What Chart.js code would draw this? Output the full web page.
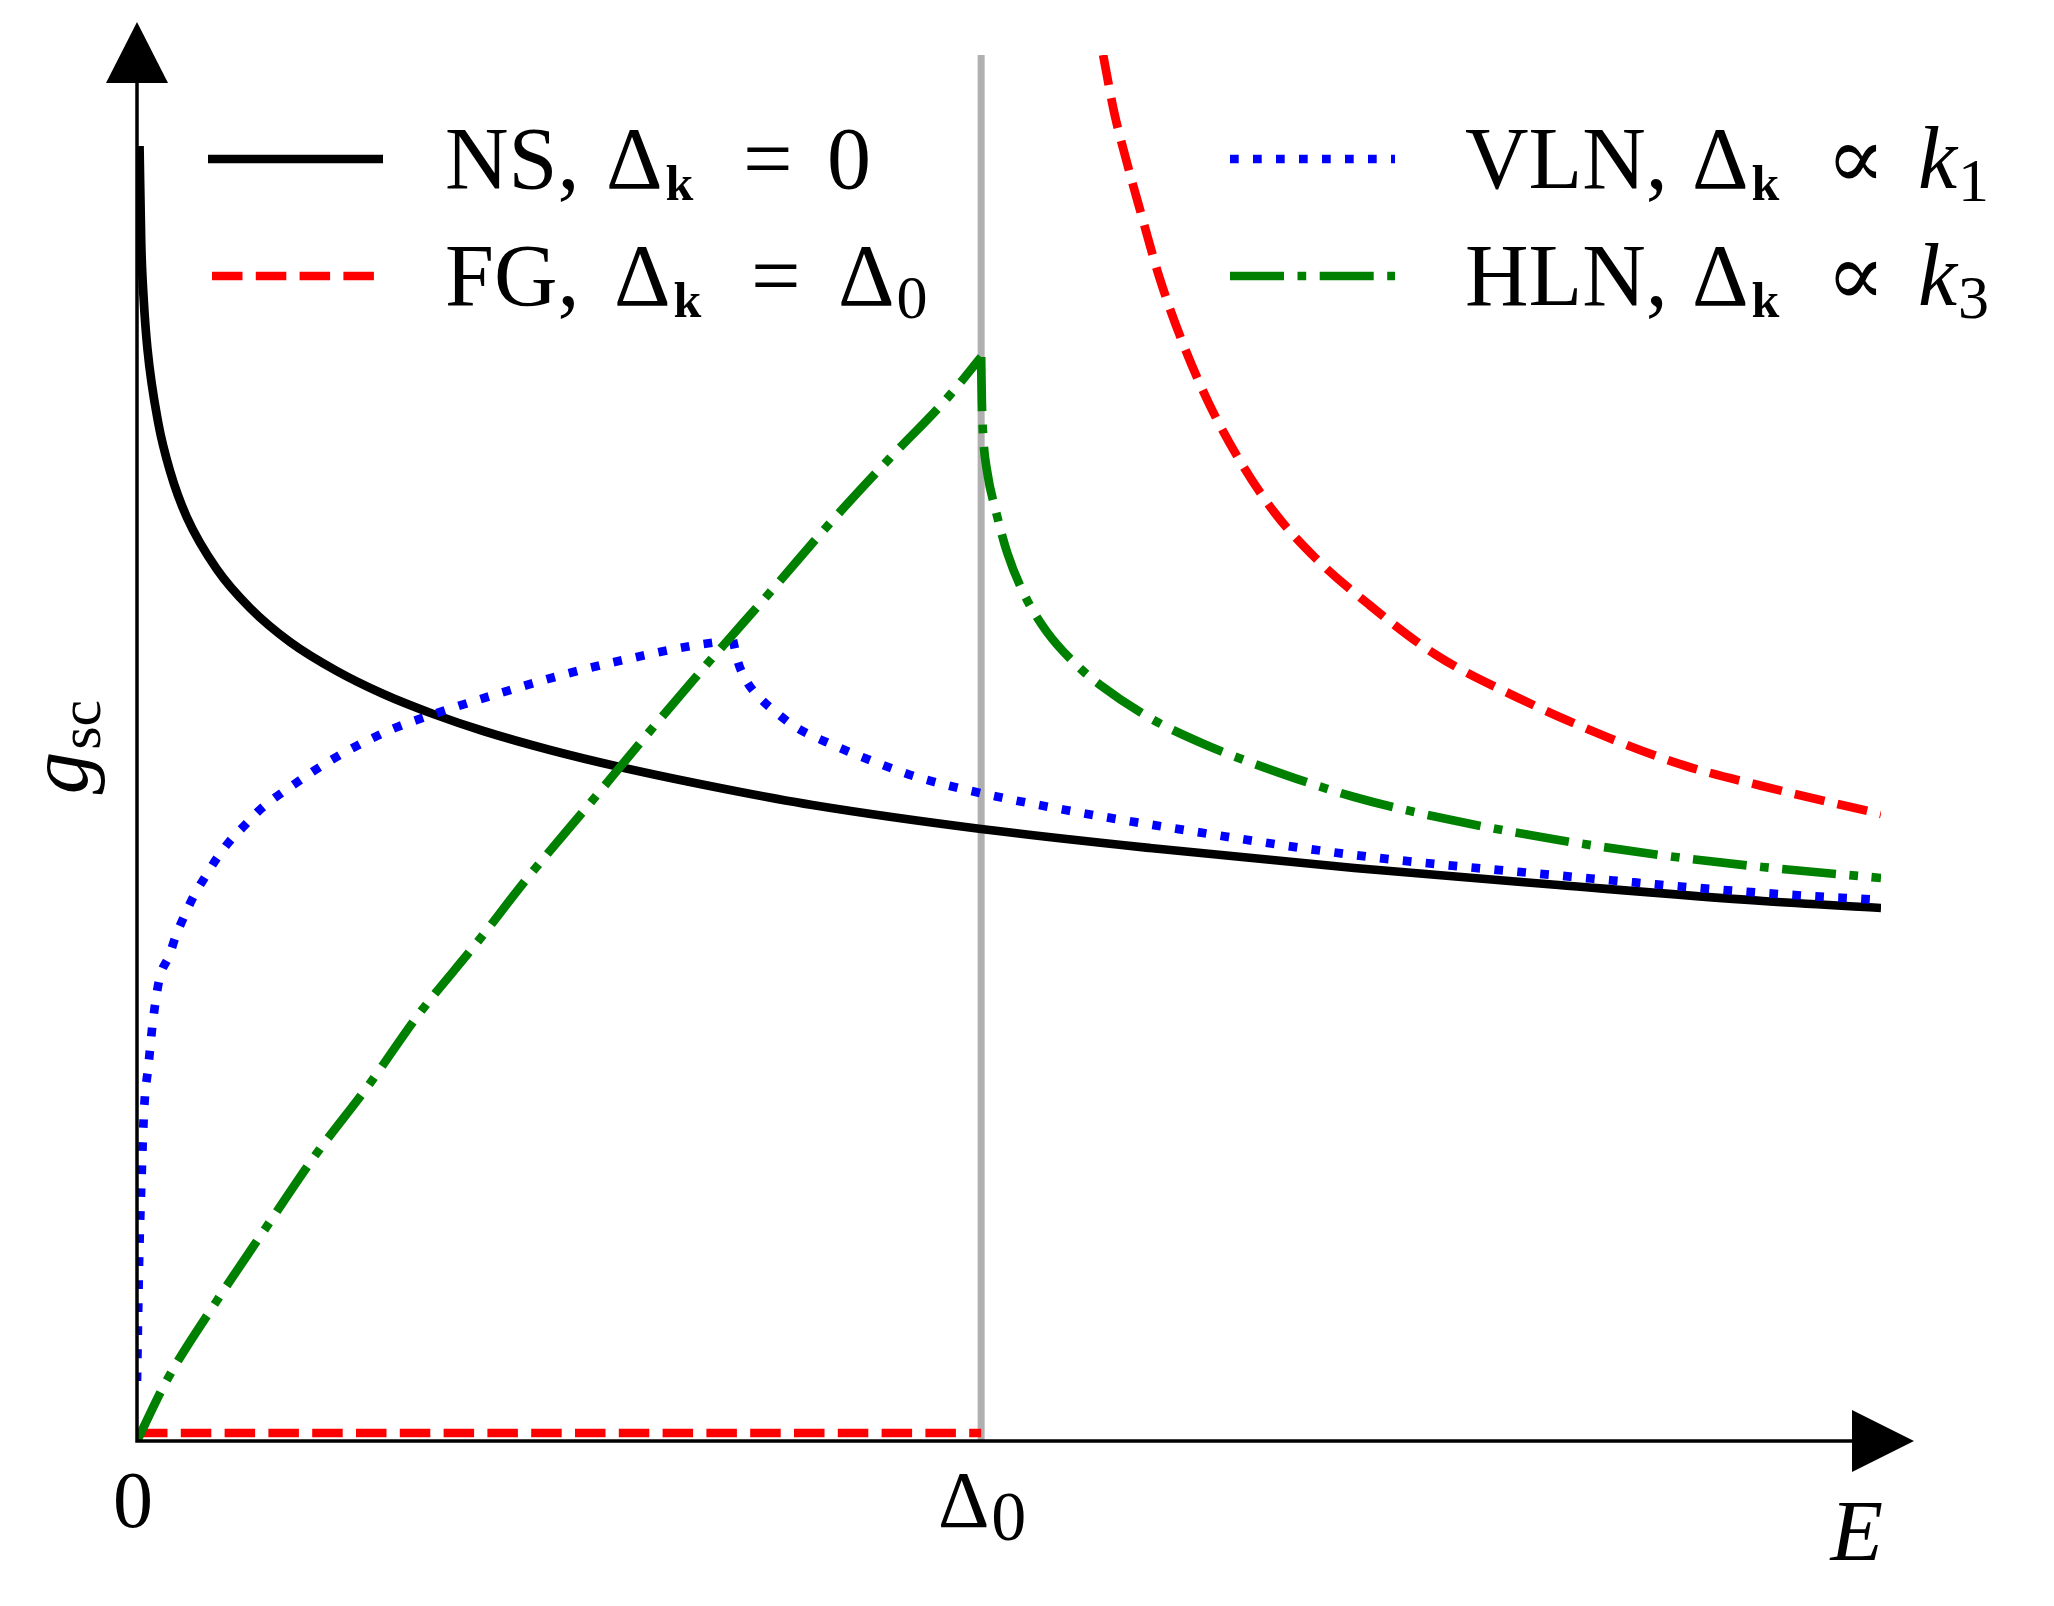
<!DOCTYPE html>
<html>
<head>
<meta charset="utf-8">
<script src="https://cdn.jsdelivr.net/npm/chart.js@4.4.1/dist/chart.umd.min.js"></script>
<style>
  html, body { margin: 0; padding: 0; background: #fff; }
  #wrap { width: 2054px; height: 1606px; }
</style>
</head>
<body>
<div id="wrap"><canvas id="myChart" width="2054" height="1606" style="width:2054px;height:1606px"></canvas></div>
<script>
// E in units of Delta_0, g_sc in arbitrary units
var nsE = [0.003, 0.005, 0.0077, 0.0124, 0.0252, 0.0391, 0.0589, 0.0944, 0.1339, 0.1813, 0.2366, 0.2918, 0.351, 0.4103, 0.4893, 0.572, 0.7026, 0.80, 1.0, 1.2, 1.442, 1.684, 1.926, 2.066];
var nsG = [12.95, 11.98, 11.45, 10.92, 10.18, 9.70, 9.24, 8.72, 8.33, 7.99, 7.70, 7.47, 7.27, 7.10, 6.91, 6.74, 6.51, 6.36, 6.12, 5.93, 5.73, 5.56, 5.40, 5.33];

var fgLowE = [0, 1.0];
var fgLowG = [0.08, 0.08];
var fgHighE = [1.1445, 1.1575, 1.1706, 1.1896, 1.211, 1.237, 1.269, 1.306, 1.348, 1.396, 1.46, 1.539, 1.634, 1.744, 1.835, 1.925, 2.066];
var fgHighG = [13.86, 13.29, 12.85, 12.27, 11.64, 11.02, 10.39, 9.81, 9.28, 8.83, 8.36, 7.86, 7.44, 7.03, 6.75, 6.55, 6.27];

var vlnRiseE = [0, 0.0024, 0.0055, 0.0085, 0.0135, 0.0186, 0.0265, 0.038, 0.046, 0.0566, 0.0672, 0.0806, 0.0948, 0.110, 0.128, 0.1466, 0.1867, 0.2322, 0.2998, 0.352, 0.4265, 0.5036, 0.5812, 0.6559, 0.706];
var vlnRiseG = [0.6, 1.77, 2.66, 3.33, 3.75, 4.18, 4.62, 4.85, 5.05, 5.26, 5.45, 5.64, 5.83, 6.0, 6.16, 6.32, 6.57, 6.82, 7.11, 7.27, 7.47, 7.66, 7.82, 7.95, 8.01];
var vlnFallE = [0.706, 0.712, 0.7227, 0.738, 0.758, 0.78, 0.8246, 0.874, 0.924, 0.999, 1.1, 1.2, 1.442, 1.684, 1.926, 2.066];
var vlnFallG = [8.01, 7.79, 7.59, 7.43, 7.28, 7.14, 6.96, 6.79, 6.64, 6.48, 6.31, 6.165, 5.86, 5.655, 5.48, 5.41];

var hlnRiseE = [0, 0.0355, 0.0936, 0.1517, 0.2097, 0.2737, 0.334, 0.4005, 0.4645, 0.533, 0.6137, 0.6825, 0.7524, 0.821, 0.892, 0.96, 1.0];
var hlnRiseG = [0, 0.61, 1.39, 2.12, 2.84, 3.55, 4.27, 4.96, 5.65, 6.34, 7.16, 7.84, 8.51, 9.18, 9.83, 10.43, 10.84];
var hlnFallE = [1.0, 1.0008, 1.0024, 1.007, 1.018, 1.031, 1.052, 1.078, 1.1156, 1.141, 1.2, 1.261, 1.321, 1.442, 1.563, 1.684, 1.804, 1.925, 2.066];
var hlnFallG = [10.84, 10.4, 10.05, 9.7, 9.28, 8.88, 8.45, 8.09, 7.74, 7.56, 7.23, 6.98, 6.78, 6.44, 6.2, 6.01, 5.86, 5.74, 5.63];

var gapE = [1, 1];
var gapG = [0, 13.86];

var xTickValues = [0, 1];
var xTickLabels = [['0', ''], ['Δ', '0']];

var eMax = 2.066;
var gMax = 13.86;

var SERIF = "'Liberation Serif', 'DejaVu Serif', serif";
var LW = 8.7;

function pts(xs, ys) {
    return xs.map(function (x, i) { return { x: x, y: ys[i] }; });
}

function curve(label, xs, ys, color, dash, order) {
    return {
        label: label,
        data: pts(xs, ys),
        borderColor: color,
        borderWidth: LW,
        borderDash: dash,
        pointRadius: 0,
        fill: false,
        cubicInterpolationMode: 'monotone',
        order: order
    };
}

var dashFG = [30.5, 13.3];
var dashVLN = [8.7, 14.3];
var dashHLN = [54, 13.5, 8.7, 13.5];

var datasets = [
    { label: 'gap', data: pts(gapE, gapG), borderColor: '#b0b0b0', borderWidth: 7, pointRadius: 0, order: 20 },
    curve('NS', nsE, nsG, '#000000', [], 9),
    curve('FG', fgLowE, fgLowG, '#ff0000', dashFG, 8),
    curve('FG', fgHighE, fgHighG, '#ff0000', dashFG, 8),
    curve('VLN', vlnRiseE, vlnRiseG, '#0000ff', dashVLN, 7),
    curve('VLN', vlnFallE, vlnFallG, '#0000ff', dashVLN, 7),
    curve('HLN', hlnRiseE, hlnRiseG, '#008000', dashHLN, 6),
    curve('HLN', hlnFallE, hlnFallG, '#008000', dashHLN, 6)
];

// legend rows: dataset index, sample line x-range, text start, baseline, text pieces
// a piece with dx sits at that offset, a piece with gap follows the previous one
var fMain = '88px ' + SERIF;
var fItal = 'italic 88px ' + SERIF;
var fBold = 'bold 50px ' + SERIF;
var fSub = '62px ' + SERIF;

var legendRows = [
    { ds: 1, x1: 208, x2: 383, tx: 445, base: 188, segs: [
        { t: 'NS,', dx: 0, f: fMain }, { t: 'Δ', dx: 161, f: fMain }, { t: 'k', gap: 3, dy: 12, f: fBold },
        { t: '=', dx: 298, f: fMain }, { t: '0', dx: 382, f: fMain }] },
    { ds: 2, x1: 212, x2: 377, tx: 445, base: 305, segs: [
        { t: 'FG,', dx: 0, f: fMain }, { t: 'Δ', dx: 169, f: fMain }, { t: 'k', gap: 3, dy: 12, f: fBold },
        { t: '=', dx: 306, f: fMain }, { t: 'Δ', dx: 393, f: fMain }, { t: '0', gap: 2, dy: 13, f: fSub }] },
    { ds: 4, x1: 1230, x2: 1395, tx: 1465, base: 188, segs: [
        { t: 'VLN,', dx: 0, f: fMain }, { t: 'Δ', dx: 227, f: fMain }, { t: 'k', gap: 3, dy: 12, f: fBold },
        { t: '∝', dx: 361, f: fMain }, { t: 'k', dx: 453, f: fItal }, { t: '1', gap: 1, dy: 13, f: fSub }] },
    { ds: 6, x1: 1230, x2: 1395, tx: 1465, base: 305, segs: [
        { t: 'HLN,', dx: 0, f: fMain }, { t: 'Δ', dx: 227, f: fMain }, { t: 'k', gap: 3, dy: 12, f: fBold },
        { t: '∝', dx: 361, f: fMain }, { t: 'k', dx: 453, f: fItal }, { t: '3', gap: 1, dy: 13, f: fSub }] }
];

var decor = {
    id: 'decor',
    afterDatasetsDraw: function (chart) {
        var ctx = chart.ctx;
        var xs = chart.scales.x, ys = chart.scales.y, area = chart.chartArea;
        var x0 = xs.getPixelForValue(0), y0 = ys.getPixelForValue(0);
        ctx.save();
        ctx.fillStyle = '#000';
        ctx.strokeStyle = '#000';

        // axes with arrow heads
        ctx.lineWidth = 3.5;
        ctx.beginPath();
        ctx.moveTo(x0, y0 + 1.75);
        ctx.lineTo(x0, area.top + 28);
        ctx.moveTo(x0 - 1.75, y0);
        ctx.lineTo(area.right - 29, y0);
        ctx.stroke();
        ctx.beginPath();
        ctx.moveTo(x0 - 31, area.top + 28);
        ctx.lineTo(x0 + 31, area.top + 28);
        ctx.lineTo(x0, area.top - 33);
        ctx.closePath();
        ctx.fill();
        ctx.beginPath();
        ctx.moveTo(area.right - 29, y0 - 31);
        ctx.lineTo(area.right - 29, y0 + 31);
        ctx.lineTo(area.right + 33, y0);
        ctx.closePath();
        ctx.fill();

        // x tick labels
        ctx.textBaseline = 'alphabetic';
        ctx.textAlign = 'left';
        xTickValues.forEach(function (v, i) {
            var px = xs.getPixelForValue(v);
            var main = xTickLabels[i][0], sub = xTickLabels[i][1];
            ctx.font = '80px ' + SERIF;
            var wm = ctx.measureText(main).width;
            ctx.font = '70px ' + SERIF;
            var wsub = sub ? ctx.measureText(sub).width : 0;
            var left = px - (wm + wsub) / 2 - (sub ? 0 : 4);
            ctx.font = '80px ' + SERIF;
            ctx.fillText(main, left, y0 + 86);
            if (sub) {
                ctx.font = '70px ' + SERIF;
                ctx.fillText(sub, left + wm + 2, y0 + 99);
            }
        });

        // axis titles
        ctx.font = 'italic 86px ' + SERIF;
        ctx.textAlign = 'right';
        ctx.fillText('E', area.right + 2, y0 + 119);

        ctx.save();
        var midY = (area.top + area.bottom) / 2;
        ctx.font = 'italic 85px ' + SERIF;
        var wg = ctx.measureText('g').width;
        ctx.font = '60px ' + SERIF;
        var wsc = ctx.measureText('sc').width;
        ctx.translate(87, midY + (wg + wsc) / 2);
        ctx.rotate(-Math.PI / 2);
        ctx.textAlign = 'left';
        ctx.font = 'italic 85px ' + SERIF;
        ctx.fillText('g', 0, 0);
        ctx.font = '60px ' + SERIF;
        ctx.fillText('sc', wg + 2, 13);
        ctx.restore();

        // legend
        legendRows.forEach(function (row) {
            var ds = chart.data.datasets[row.ds];
            ctx.save();
            ctx.strokeStyle = ds.borderColor;
            ctx.lineWidth = ds.borderWidth;
            ctx.setLineDash(ds.borderDash || []);
            ctx.lineCap = 'butt';
            ctx.beginPath();
            ctx.moveTo(row.x1, row.base - 29);
            ctx.lineTo(row.x2, row.base - 29);
            ctx.stroke();
            ctx.restore();
            ctx.textAlign = 'left';
            var end = row.tx;
            row.segs.forEach(function (s) {
                ctx.font = s.f;
                var sx = (s.dx !== undefined) ? row.tx + s.dx : end + s.gap;
                ctx.fillText(s.t, sx, row.base + (s.dy || 0));
                end = sx + ctx.measureText(s.t).width;
            });
        });
        ctx.restore();
    }
};

var ctx = document.getElementById('myChart').getContext('2d');
var myChart = new Chart(ctx, {
    type: 'line',
    data: { datasets: datasets },
    options: {
        responsive: false,
        animation: false,
        devicePixelRatio: 1,
        layout: { padding: { left: 137, right: 173, top: 55, bottom: 165 } },
        scales: {
            x: { type: 'linear', min: 0, max: eMax, display: false },
            y: { type: 'linear', min: 0, max: gMax, display: false }
        },
        plugins: {
            legend: { display: false },
            tooltip: { enabled: false }
        }
    },
    plugins: [decor]
});
</script>
</body>
</html>
